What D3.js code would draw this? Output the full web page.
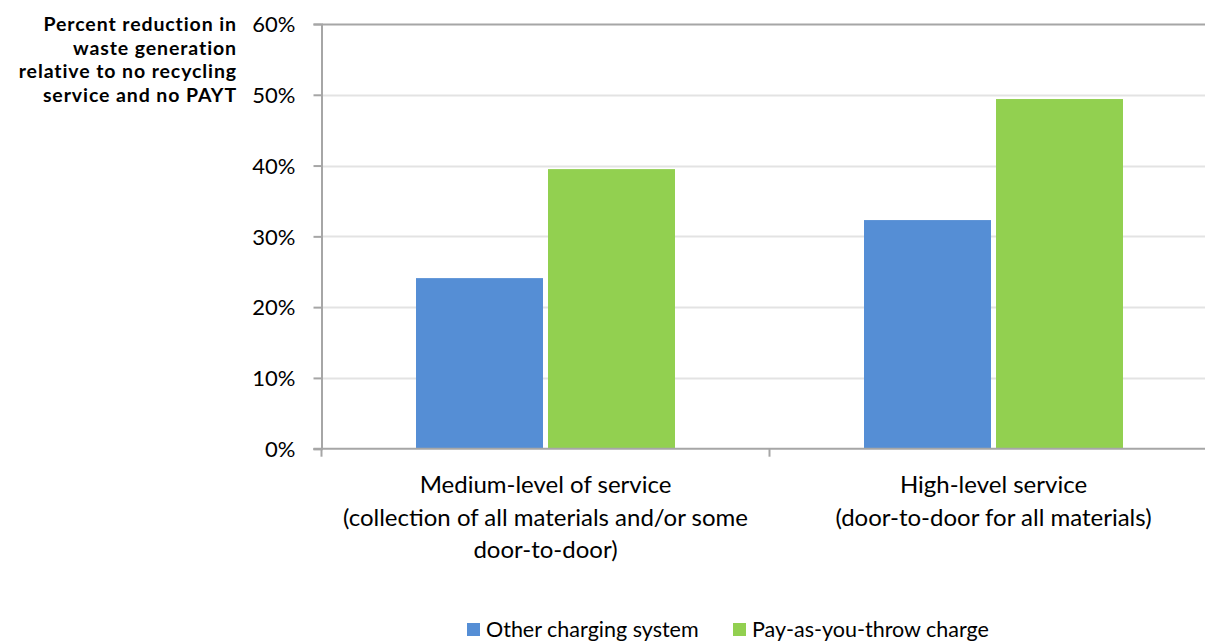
<!DOCTYPE html>
<html>
<head>
<meta charset="utf-8">
<script src="https://cdn.jsdelivr.net/npm/d3@7"></script>
<style>
  html, body { margin: 0; padding: 0; background: #fff; overflow: hidden; }
  svg { display: block; font-family: Lato, "Open Sans", sans-serif; }
</style>
</head>
<body>
<svg id="chart" width="1205" height="643"></svg>
<script>
// Waste-generation reduction by service level and charging system
const categories = [
  ["Medium-level of service", "(collection of all materials and/or some", "door-to-door)"],
  ["High-level service", "(door-to-door for all materials)"]
];
const categoryKeys = ["medium", "high"];
const seriesNames = ["Other charging system", "Pay-as-you-throw charge"];
const seriesColors = ["#558ED5", "#92D050"];
const otherCharging = [24.1, 32.3];
const payAsYouThrow = [39.5, 49.4];
const yTicks = [0, 10, 20, 30, 40, 50, 60];
const yTitle = ["Percent reduction in", "waste generation", "relative to no recycling", "service and no PAYT"];

const svg = d3.select("#chart");
const plotLeft = 321.5, plotRight = 1217.5, plotTop = 24, plotBottom = 448.7;

const y = d3.scaleLinear().domain([0, 60]).range([plotBottom, plotTop]);
const x0 = d3.scaleBand().domain(categoryKeys).range([plotLeft, plotRight]).padding(0);
const x1 = d3.scaleBand().domain(seriesNames).range([94.5, 353.5]).paddingInner(5 / 132).paddingOuter(0);

// gridlines
svg.append("g").selectAll("line").data(yTicks.filter(d => d > 0)).join("line")
  .attr("x1", plotLeft).attr("x2", plotRight)
  .attr("y1", d => Math.round(y(d)) + 0.5).attr("y2", d => Math.round(y(d)) + 0.5)
  .attr("stroke", d => d === 60 ? "#a6a6a6" : "#e3e3e3")
  .attr("stroke-width", 2);

// bars
const rows = categoryKeys.map((k, i) => ({ key: k, values: [otherCharging[i], payAsYouThrow[i]] }));
const groups = svg.append("g").selectAll("g").data(rows).join("g")
  .attr("transform", d => `translate(${x0(d.key)},0)`);
groups.selectAll("rect").data(d => d.values.map((v, j) => ({ s: seriesNames[j], v, j }))).join("rect")
  .attr("x", d => x1(d.s)).attr("width", x1.bandwidth())
  .attr("y", d => y(d.v)).attr("height", d => y(0) - y(d.v))
  .attr("fill", d => seriesColors[d.j]);

// y axis
const yAxis = d3.axisLeft(y).tickValues(yTicks).tickFormat(d => d + "%").tickSize(8).tickPadding(18);
const gy = svg.append("g").attr("transform", `translate(${plotLeft},0)`).call(yAxis);
gy.select(".domain").attr("stroke", "#a6a6a6").attr("stroke-width", 2);
gy.selectAll(".tick line").attr("stroke", "#a6a6a6").attr("stroke-width", 2);
gy.selectAll(".tick text").attr("font-size", 22).attr("fill", "#000").attr("font-family", "Lato, sans-serif").attr("dy", "0.35em");

// x axis
const xAxis = d3.axisBottom(x0).tickValues([]).tickSize(0);
const gx = svg.append("g").attr("transform", `translate(0,${plotBottom})`).call(xAxis);
gx.select(".domain").attr("stroke", "#a6a6a6").attr("stroke-width", 2).attr("d", `M${plotLeft - 8},0H${plotRight}`);
const bounds = [plotLeft, x0("high"), plotRight];
gx.selectAll("line.sep").data(bounds).join("line").attr("class", "sep")
  .attr("x1", d => d).attr("x2", d => d).attr("y1", 0).attr("y2", 8)
  .attr("stroke", "#a6a6a6").attr("stroke-width", 2);

// category labels
const labels = svg.append("g").selectAll("text").data(categoryKeys).join("text")
  .attr("x", k => x0(k) + x0.bandwidth() / 2)
  .attr("text-anchor", "middle").attr("font-size", 24).attr("fill", "#000");
labels.selectAll("tspan").data((k, i) => categories[i]).join("tspan")
  .attr("x", function () { return d3.select(this.parentNode).attr("x"); })
  .attr("y", (d, i) => 493 + i * 32.5)
  .text(d => d);

// y title, one text element per line
svg.append("g").selectAll("text").data(yTitle).join("text")
  .attr("text-anchor", "end").attr("font-weight", "bold").attr("font-size", 19.5)
  .attr("letter-spacing", 0.9).attr("fill", "#000")
  .attr("x", 237).attr("y", (d, i) => 31 + i * 23.6).text(d => d);

// legend
const legendX = [467, 733];
const leg = svg.append("g").selectAll("g").data(seriesNames).join("g")
  .attr("transform", (d, i) => `translate(${legendX[i]},623)`);
leg.append("rect").attr("width", 13).attr("height", 13).attr("fill", (d, i) => seriesColors[i]);
leg.append("text").attr("x", 19).attr("y", 14).attr("font-size", 21.5).attr("fill", "#000").text(d => d);
</script>
</body>
</html>
